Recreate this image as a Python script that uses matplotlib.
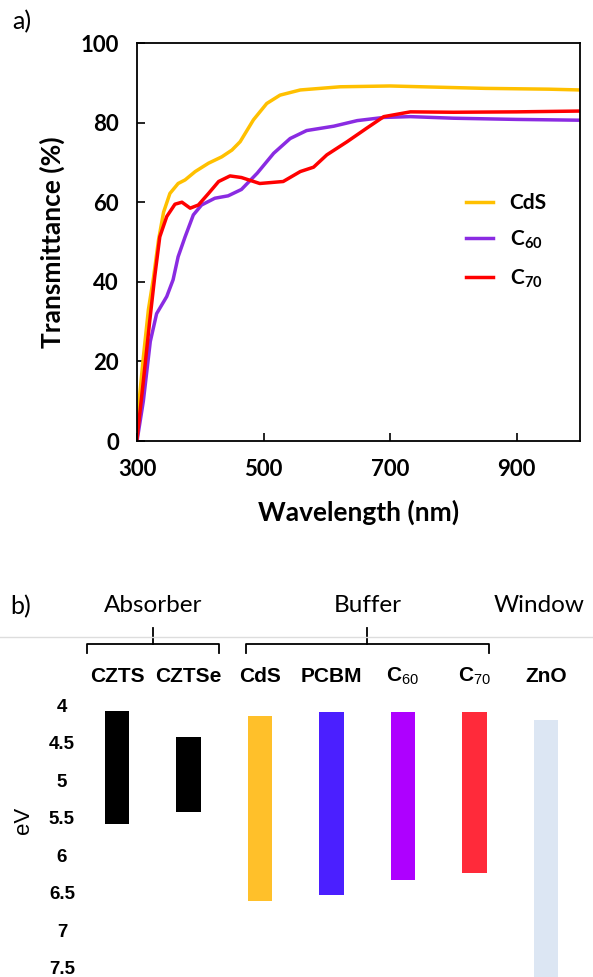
import matplotlib
matplotlib.use("Agg")
import matplotlib.pyplot as plt
import numpy as np

# panel a: transmittance spectra
wl_cds = [300, 310, 318, 326, 334, 342, 352, 365, 376, 392, 413, 434, 450, 463, 484, 505, 526, 558, 621, 700, 750, 800, 850, 900, 950, 1000]
t_cds = [4.5, 21, 33, 41, 50.5, 57.5, 62.2, 64.7, 65.6, 67.7, 69.8, 71.4, 73.1, 75.2, 80.7, 84.8, 86.9, 88.2, 89.0, 89.2, 89.0, 88.8, 88.6, 88.5, 88.4, 88.2]

wl_c60 = [300, 310, 321, 331, 347, 357, 365, 376, 389, 402, 423, 444, 465, 490, 516, 542, 568, 611, 648, 690, 732, 800, 900, 1000]
t_c60 = [0, 10, 25, 32, 36.3, 40.5, 46.3, 51.3, 56.8, 59.3, 61, 61.6, 63.2, 67.3, 72.3, 76, 78, 79.1, 80.5, 81.3, 81.5, 81.1, 80.8, 80.6]

wl_c70 = [300, 310, 320, 328, 336, 347, 360, 371, 384, 397, 413, 429, 447, 465, 494, 531, 558, 579, 600, 632, 663, 690, 732, 800, 900, 1000]
t_c70 = [0.5, 15, 30, 41.3, 51.3, 56.4, 59.5, 60, 58.5, 59.3, 62.2, 65.2, 66.6, 66.2, 64.7, 65.2, 67.7, 68.8, 71.9, 75.2, 78.6, 81.5, 82.7, 82.6, 82.7, 82.9]

# panel b: band edges (eV)
materials = ["CZTS", "CZTSe", "CdS", "PCBM", "C$_{\\mathrm{60}}$", "C$_{\\mathrm{70}}$", "ZnO"]
cb = [4.08, 4.42, 4.15, 4.09, 4.09, 4.09, 4.20]
vb = [5.58, 5.43, 6.61, 6.53, 6.33, 6.23, 7.80]
bar_colors = ["black", "black", "#FFC02A", "#4B1FFF", "#AE00FF", "#FF2A3A", "#DCE6F3"]
groups = [("Absorber", 0, 1, 0.42), ("Buffer", 2, 5, 0.2)]
window_label = ("Window", 6)

plt.rcParams["mathtext.fontset"] = "custom"
plt.rcParams["mathtext.rm"] = "Liberation Sans"
plt.rcParams["mathtext.bf"] = "Lato:bold"

W, H = 593, 977
fig = plt.figure(figsize=(W / 100, H / 100), dpi=100)

# ---- panel a ----
ax = fig.add_axes([137 / W, 1 - 441 / H, 443 / W, 398 / H])
ax.plot(wl_cds, t_cds, color="#FFC000", lw=2.5, label="CdS")
ax.plot(wl_c60, t_c60, color="#8A2BE2", lw=2.5, label="C$_{\\mathbf{60}}$")
ax.plot(wl_c70, t_c70, color="#FF0000", lw=2.5, label="C$_{\\mathbf{70}}$")
ax.set_xlim(300, 1000)
ax.set_ylim(0, 100)
ax.set_xticks([300, 500, 700, 900])
ax.set_yticks([0, 20, 40, 60, 80, 100])
ax.tick_params(direction="in", length=6, width=1.2, labelsize=16, pad=13)
for lab in ax.get_xticklabels() + ax.get_yticklabels():
    lab.set_family("Lato")
    lab.set_weight("bold")
for sp in ax.spines.values():
    sp.set_linewidth(1.3)
ax.set_xlabel("Wavelength (nm)", family="Lato", weight="bold", fontsize=19, labelpad=14)
ax.set_ylabel("Transmittance (%)", family="Lato", weight="bold", fontsize=19, labelpad=11)
leg = ax.legend(loc="upper left", bbox_to_anchor=(0.7, 0.67), frameon=False,
                handlelength=1.3, labelspacing=0.75,
                prop={"family": "Lato", "weight": "bold", "size": 15})
fig.text(12 / W, 1 - 22 / H, "a)", fontsize=18, family="Lato", va="center")

# ---- panel b ----
bx = fig.add_axes([80 / W, 0, (W - 80) / W, (H - 590) / H])
px = 71.5
x0 = 117
bx.set_xlim((80 - x0) / px, (W - x0) / px)
ev_px = 75.14
bx.set_ylim(4 + (H - 705) / ev_px, 4 - (705 - 590) / ev_px)
xs = np.arange(len(materials))
bx.bar(xs, np.array(vb) - np.array(cb), bottom=cb, width=0.34, color=bar_colors)
bx.set_yticks([4, 4.5, 5, 5.5, 6, 6.5, 7, 7.5])
bx.set_yticklabels(["4", "4.5", "5", "5.5", "6", "6.5", "7", "7.5"])
bx.tick_params(axis="y", length=0, pad=13, labelsize=13.5)
for lab in bx.get_yticklabels():
    lab.set_family("Liberation Sans")
    lab.set_weight("bold")
    lab.set_ha("center")
bx.set_xticks([])
for sp in bx.spines.values():
    sp.set_visible(False)
fig.text(23 / W, 1 - 820 / H, "eV", rotation=90, ha="center", va="center",
         fontsize=16, family="Liberation Sans")

for x, name in zip(xs, materials):
    bx.text(x, 3.62, name, ha="center", va="center", fontsize=15,
            family="Liberation Sans", weight="bold")

y_bar = 3.19
for label, first, last, pad in groups:
    a, b = first - pad, last + pad
    c = (first + last) / 2
    bx.plot([a, a, b, b], [3.31, y_bar, y_bar, 3.31], color="black", lw=1.3, clip_on=False)
    bx.plot([c, c], [y_bar, 2.98], color="black", lw=1.3, clip_on=False)
    bx.text(c, 2.68, label, ha="center", va="center", fontsize=17.5, family="Lato")
bx.text(window_label[1] - 0.1, 2.68, window_label[0], ha="center", va="center",
        fontsize=17.5, family="Lato")
bx.plot([(0 - x0) / px, (W - x0) / px], [3.09, 3.09], color="#DDDDDD", lw=1, clip_on=False)
fig.text(10 / W, 1 - 607 / H, "b)", fontsize=18, family="Lato", va="center")

fig.savefig("out.png", dpi=100)
